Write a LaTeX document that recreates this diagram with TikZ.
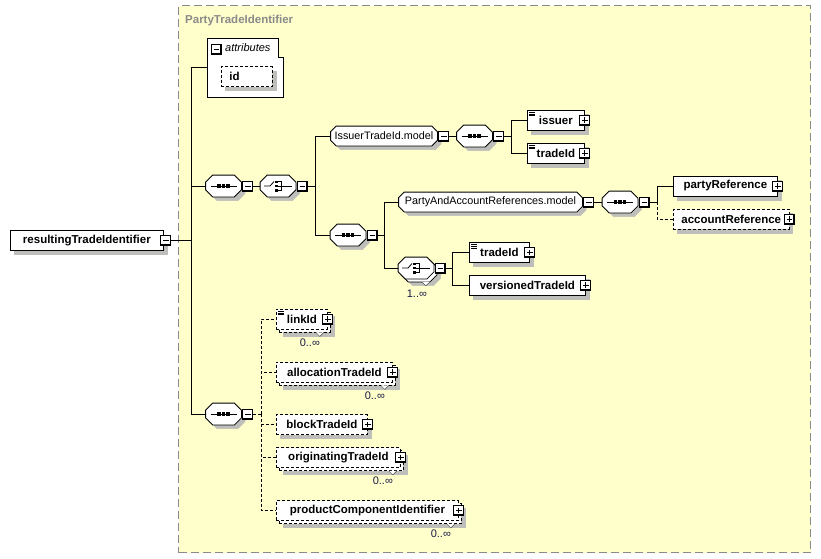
\documentclass[tikz,border=0pt]{standalone}
\usepackage{fontspec}
\setmainfont{Liberation Sans}

\definecolor{groupfill}{RGB}{255,255,204}
\definecolor{groupline}{RGB}{138,138,138}
\definecolor{shadecol}{RGB}{190,190,186}
\definecolor{occtext}{RGB}{25,25,70}

\newcommand{\elfont}{\fontsize{11.5}{13}\selectfont\bfseries}
\newcommand{\grpfont}{\fontsize{10.8}{13}\selectfont}

% octagon box for compositors and model groups
\makeatletter
\newdimen\octl \newdimen\octr \newdimen\octt \newdimen\octb
\def\octcut{6pt}
\pgfdeclareshape{octbox}{%
  \inheritsavedanchors[from=rectangle]%
  \inheritanchorborder[from=rectangle]%
  \inheritanchor[from=rectangle]{center}%
  \inheritanchor[from=rectangle]{north}%
  \inheritanchor[from=rectangle]{south}%
  \inheritanchor[from=rectangle]{east}%
  \inheritanchor[from=rectangle]{west}%
  \inheritanchor[from=rectangle]{north east}%
  \inheritanchor[from=rectangle]{north west}%
  \inheritanchor[from=rectangle]{south east}%
  \inheritanchor[from=rectangle]{south west}%
  \inheritanchor[from=rectangle]{base}%
  \inheritanchor[from=rectangle]{mid}%
  \backgroundpath{%
    \southwest \octl=\pgf@x \octb=\pgf@y
    \northeast \octr=\pgf@x \octt=\pgf@y
    \pgfpathmoveto{\pgfqpoint{\dimexpr\octl+\octcut\relax}{\octb}}%
    \pgfpathlineto{\pgfqpoint{\dimexpr\octr-\octcut\relax}{\octb}}%
    \pgfpathlineto{\pgfqpoint{\octr}{\dimexpr\octb+\octcut\relax}}%
    \pgfpathlineto{\pgfqpoint{\octr}{\dimexpr\octt-\octcut\relax}}%
    \pgfpathlineto{\pgfqpoint{\dimexpr\octr-\octcut\relax}{\octt}}%
    \pgfpathlineto{\pgfqpoint{\dimexpr\octl+\octcut\relax}{\octt}}%
    \pgfpathlineto{\pgfqpoint{\octl}{\dimexpr\octt-\octcut\relax}}%
    \pgfpathlineto{\pgfqpoint{\octl}{\dimexpr\octb+\octcut\relax}}%
    \pgfpathclose
  }%
}
\makeatother

\tikzset{
  oct cut/.code={\def\octcut{#1}},
  box/.style={draw, fill=white, line width=0.8pt, minimum height=20pt, inner xsep=8pt, inner ysep=0pt, anchor=west, font=\elfont},
  elem/.style={box},
  boxsh/.style={draw=shadecol, fill=shadecol, line width=0.5pt, minimum height=19.5pt, inner sep=0pt, anchor=west},
  opt/.style={dash pattern=on 3pt off 2pt},
  conn/.style={line width=0.8pt},
  pmbox/.style={draw, fill=white, line width=1pt, minimum size=10pt, inner sep=0pt},
  minus/.style={pmbox, path picture={
      \draw[black, line width=0.8pt] ([xshift=2.2pt]path picture bounding box.west) -- ([xshift=-2.2pt]path picture bounding box.east);
      \draw[black, line width=1.2pt] ([xshift=-0.6pt]path picture bounding box.north east) -- ([shift={(-0.6pt,0.6pt)}]path picture bounding box.south east) -- ([yshift=0.6pt]path picture bounding box.south west);}},
  plus/.style={pmbox, path picture={
      \draw[black, line width=0.8pt] ([xshift=2.2pt]path picture bounding box.west) -- ([xshift=-2.2pt]path picture bounding box.east)
        ([yshift=-2.2pt]path picture bounding box.north) -- ([yshift=2.2pt]path picture bounding box.south);
      \draw[black, line width=1.2pt] ([xshift=-0.6pt]path picture bounding box.north east) -- ([shift={(-0.6pt,0.6pt)}]path picture bounding box.south east) -- ([yshift=0.6pt]path picture bounding box.south west);}},
  simple/.style={path picture={\foreach \d in {2,3.8,5.6} {\draw[black, solid, line width=0.6pt] ([shift={(1.5pt,-\d pt)}]path picture bounding box.north west) -- ++(6pt,0pt);}}},
  octa/.style={octbox, oct cut=7pt, draw, fill=white, line width=0.8pt, minimum width=35pt, minimum height=21pt, inner sep=0pt},
  octsh/.style={octbox, oct cut=7pt, draw=shadecol, fill=shadecol, line width=0.5pt, minimum width=34.5pt, minimum height=20.5pt, inner sep=0pt},
  seq/.style={octa, path picture={
      \coordinate (pc) at (path picture bounding box.center);
      \draw[black, line width=0.8pt] ([xshift=-13pt]pc) -- ([xshift=13pt]pc);
      \foreach \d in {-6.4,-1.75,2.9} {\fill[black] ([shift={(\d pt,-1.75pt)}]pc) rectangle ++(3.5pt,3.5pt);}}},
  choiceicon/.style={path picture={
      \coordinate (pc) at (path picture bounding box.center);
      \draw[black, line width=0.8pt] ([xshift=-14pt]pc) -- ([xshift=-8pt]pc) -- ([shift={(-4pt,4.5pt)}]pc);
      \foreach \d in {-5.5,-1.25,3} {\fill[black] ([shift={(-3pt,\d pt)}]pc) rectangle ++(2.5pt,2.5pt);}
      \draw[black, line width=0.8pt] ([shift={(0pt,4.25pt)}]pc) -- ([shift={(3pt,4.25pt)}]pc) -- ([shift={(3pt,-4.25pt)}]pc) -- ([shift={(0pt,-4.25pt)}]pc)
        (pc) -- ([xshift=14pt]pc);}},
  choice/.style={octa, choiceicon},
  grp/.style={octbox, oct cut=5.5pt, draw, fill=white, line width=0.8pt, minimum height=19pt, inner xsep=0pt, inner ysep=0pt, font=\grpfont},
  grpsh/.style={octbox, oct cut=5.5pt, draw=shadecol, fill=shadecol, line width=0.5pt, minimum height=18.5pt, inner sep=0pt},
  marker/.style={draw=black!70, fill=white, line width=0.5pt},
  occ/.style={font=\fontsize{11}{13}\selectfont, text=occtext, inner sep=0pt},
}

\begin{document}
\begin{tikzpicture}[x=1pt,y=-1pt]
\useasboundingbox (0,0) rectangle (821,558);

% group box
\node[draw=groupline, fill=groupfill, line width=1.2pt, dash pattern=on 8pt off 4pt, minimum width=632pt, minimum height=547pt, inner sep=0pt, anchor=north west] (ptid) at (178,5) {};
\node[anchor=base west, inner sep=0pt, text=groupline, font=\elfont] (ptidlbl) at (185,23) {PartyTradeIdentifier};

% attributes
\node[minimum width=76pt, minimum height=59pt, inner sep=0pt, anchor=north west] (attrs) at (207,38) {};
\draw[line width=0.8pt, fill=white] (attrs.north west) -- ([xshift=-5pt]attrs.north east) -- ([shift={(-5pt,-19pt)}]attrs.north east)
  -- ([yshift=-19pt]attrs.north east) -- (attrs.south east) -- (attrs.south west) -- cycle;
\node[minus] (attrsm) at (216.5,49) {};
\node[anchor=west, inner sep=0pt, font=\fontsize{11}{13}\selectfont\itshape] (attrslbl) at (225,48) {attributes};
\node[boxsh, minimum width=50.5pt] (idsh) at (225,80.5) {};
\node[elem, opt, minimum width=51pt, text width=35pt, align=left] (id) at (221,76.5) {id};

% root element
\node[boxsh, minimum width=152.5pt] (rootsh) at (14,244.5) {};
\node[elem, minimum width=153pt] (root) at (10,240.5) {resultingTradeIdentifier};
\node[minus] (rootm) at ([xshift=2pt]root.east) {};

% first sequence / choice
\node[octsh] (seqAsh) at (227.5,190) {};
\node[seq] (seqA) at (223.5,186) {};
\node[minus, anchor=west] (seqAm) at ([xshift=1pt]seqA.east) {};
\node[octsh] (choiceAsh) at (282,190) {};
\node[choice] (choiceA) at (278,186) {};
\node[minus, anchor=west] (choiceAm) at ([xshift=1pt]choiceA.east) {};

% IssuerTradeId.model
\node[grpsh, minimum width=105.5pt] (issmodelsh) at (388,140) {};
\node[grp, minimum width=106pt] (issmodel) at (384,136) {IssuerTradeId.model};
\node[minus, anchor=west] (issmodelm) at ([xshift=1pt]issmodel.east) {};
\node[octsh] (seqIsh) at (478.5,140) {};
\node[seq] (seqI) at (474.5,136) {};
\node[minus, anchor=west] (seqIm) at ([xshift=1pt]seqI.east) {};
\node[boxsh, minimum width=56.5pt] (issuersh) at (531,124) {};
\node[elem, simple, minimum width=57pt] (issuer) at (527,120) {issuer};
\node[plus] (issuerp) at (issuer.east) {};
\node[boxsh, minimum width=56.5pt] (tradeIdAsh) at (531,157) {};
\node[elem, simple, minimum width=57pt] (tradeIdA) at (527,153) {tradeId};
\node[plus] (tradeIdAp) at (tradeIdA.east) {};

% PartyAndAccountReferences.model
\node[octsh] (seqBsh) at (352,239) {};
\node[seq] (seqB) at (348,235) {};
\node[minus, anchor=west] (seqBm) at ([xshift=1pt]seqB.east) {};
\node[grpsh, minimum width=182.5pt] (pamodelsh) at (494.5,206) {};
\node[grp, minimum width=183pt] (pamodel) at (490.5,202) {PartyAndAccountReferences.model};
\node[minus, anchor=west] (pamodelm) at ([xshift=1pt]pamodel.east) {};
\node[octsh] (seqPsh) at (624,206) {};
\node[seq] (seqP) at (620,202) {};
\node[minus, anchor=west] (seqPm) at ([xshift=1pt]seqP.east) {};
\node[boxsh, minimum width=103.5pt] (partyRefsh) at (677,190) {};
\node[elem, minimum width=104pt] (partyRef) at (673,186) {partyReference};
\node[plus] (partyRefp) at (partyRef.east) {};
\node[boxsh, minimum width=114.5pt] (accountRefsh) at (677,223) {};
\node[elem, opt, minimum width=115pt] (accountRef) at (673,219) {accountReference};
\node[plus] (accountRefp) at (accountRef.east) {};

% choice 1..inf
\node[octsh] (choiceBsh) at (423,275) {};
\node[octa] (choiceBbk) at (419,271) {};
\node[choice] (choiceB) at (416,268) {};
\node[minus, anchor=west] (choiceBm) at ([xshift=1pt]choiceB.east) {};
\draw[marker] ([xshift=-15pt]choiceBbk.south east) -- ++(4pt,-4pt) -- ++(4pt,4pt);
\node[occ] (choiceBn) at ([shift={(-17pt,-14.5pt)}]choiceB.south east) {1..∞};
\node[boxsh, minimum width=59.5pt] (tradeIdBsh) at (473,256.5) {};
\node[elem, simple, minimum width=60pt] (tradeIdB) at (469,252.5) {tradeId};
\node[plus] (tradeIdBp) at (tradeIdB.east) {};
\node[boxsh, minimum width=115.5pt] (versionedsh) at (473,289) {};
\node[elem, minimum width=116pt] (versioned) at (469,285) {versionedTradeId};
\node[plus] (versionedp) at (versioned.east) {};

% last sequence
\node[octsh] (seqCsh) at (227.5,418) {};
\node[seq] (seqC) at (223.5,414) {};
\node[minus, anchor=west] (seqCm) at ([xshift=1pt]seqC.east) {};

\node[boxsh, minimum width=50.5pt] (linkIdsh) at (283,326) {};
\node[box, opt, minimum width=51pt] (linkIdbk) at (279,322) {};
\node[box, opt, simple, minimum width=51pt] (linkId) at (276,319) {linkId};
\node[plus] (linkIdp) at (linkId.east) {};
\draw[marker] ([xshift=-15pt]linkIdbk.south east) -- ++(4pt,-4pt) -- ++(4pt,4pt);
\node[occ] (linkIdn) at ([shift={(-18pt,-13pt)}]linkId.south east) {0..∞};

\node[boxsh, minimum width=115.5pt] (allocsh) at (283,379) {};
\node[box, opt, minimum width=116pt] (allocbk) at (279,375) {};
\node[box, opt, minimum width=116pt] (alloc) at (276,372) {allocationTradeId};
\node[plus] (allocp) at (alloc.east) {};
\draw[marker] ([xshift=-15pt]allocbk.south east) -- ++(4pt,-4pt) -- ++(4pt,4pt);
\node[occ] (allocn) at ([shift={(-18pt,-13pt)}]alloc.south east) {0..∞};

\node[boxsh, minimum width=90.5pt] (blocksh) at (280,428.5) {};
\node[elem, opt, minimum width=91pt] (block) at (276,424.5) {blockTradeId};
\node[plus] (blockp) at (block.east) {};

\node[boxsh, minimum width=123.5pt] (origsh) at (283,464.5) {};
\node[box, opt, minimum width=124pt] (origbk) at (279,460.5) {};
\node[box, opt, minimum width=124pt] (orig) at (276,457.5) {originatingTradeId};
\node[plus] (origp) at (orig.east) {};
\draw[marker] ([xshift=-15pt]origbk.south east) -- ++(4pt,-4pt) -- ++(4pt,4pt);
\node[occ] (orign) at ([shift={(-18pt,-13pt)}]orig.south east) {0..∞};

\node[boxsh, minimum width=181.5pt] (prodsh) at (283,517.5) {};
\node[box, opt, minimum width=182pt] (prodbk) at (279,513.5) {};
\node[box, opt, minimum width=182pt] (prod) at (276,510.5) {productComponentIdentifier};
\node[plus] (prodp) at (prod.east) {};
\draw[marker] ([xshift=-15pt]prodbk.south east) -- ++(4pt,-4pt) -- ++(4pt,4pt);
\node[occ] (prodn) at ([shift={(-18pt,-13pt)}]prod.south east) {0..∞};

% connectors
\coordinate (trunk) at (191,240.5);
\draw[conn] (rootm.east) -- (trunk);
\draw[conn] (trunk) |- (attrs.west);
\draw[conn] (trunk) |- (seqA.west);
\draw[conn] (trunk) |- (seqC.west);

\draw[conn] (seqAm.east) -- (choiceA.west);
\coordinate (forkA) at (315,186);
\draw[conn] (choiceAm.east) -- (forkA);
\draw[conn] (forkA) |- (issmodel.west);
\draw[conn] (forkA) |- (seqB.west);

\draw[conn] (issmodelm.east) -- (seqI.west);
\coordinate (forkI) at (511,136);
\draw[conn] (seqIm.east) -- (forkI);
\draw[conn] (forkI) |- (issuer.west);
\draw[conn] (forkI) |- (tradeIdA.west);

\coordinate (forkB) at (384,235);
\draw[conn] (seqBm.east) -- (forkB);
\draw[conn] (forkB) |- (pamodel.west);
\draw[conn] (forkB) |- (choiceB.west);

\draw[conn] (pamodelm.east) -- (seqP.west);
\coordinate (forkP) at (657,202);
\draw[conn] (seqPm.east) -- (forkP);
\draw[conn] (forkP) |- (partyRef.west);
\draw[conn, opt] (forkP) |- (accountRef.west);

\coordinate (forkC) at (452,268);
\draw[conn] (choiceBm.east) -- (forkC);
\draw[conn] (forkC) |- (tradeIdB.west);
\draw[conn] (forkC) |- (versioned.west);

\coordinate (forkD) at (261,414);
\draw[conn, opt] (seqCm.east) -- (forkD);
\foreach \n in {linkId,alloc,block,orig,prod}
  \draw[conn, opt] (forkD) |- (\n.west);
\end{tikzpicture}
\end{document}
